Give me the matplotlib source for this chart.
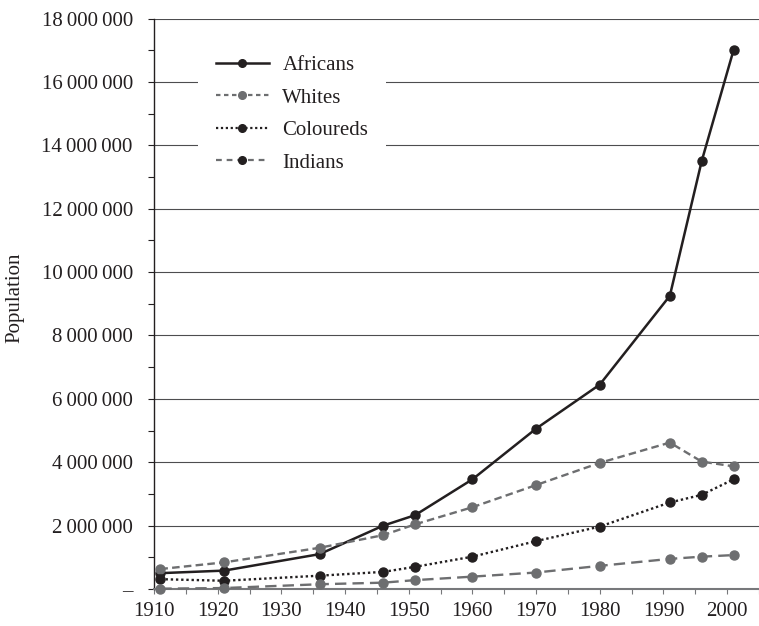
import matplotlib
matplotlib.use("Agg")
import matplotlib.pyplot as plt
from matplotlib.lines import Line2D
from matplotlib.ticker import MultipleLocator, FuncFormatter

plt.rcParams['font.family'] = ['Liberation Serif', 'DejaVu Serif']
plt.rcParams['font.size'] = 15

years = [1911, 1921, 1936, 1946, 1951, 1960, 1970, 1980, 1991, 1996, 2001]
africans = [500000, 580000, 1100000, 2000000, 2330000, 3460000, 5060000,
            6450000, 9250000, 13500000, 17000000]
whites = [630000, 840000, 1300000, 1700000, 2040000, 2580000, 3280000,
          3980000, 4620000, 4020000, 3870000]
coloureds = [310000, 260000, 420000, 540000, 700000, 1020000, 1510000,
             1970000, 2730000, 2970000, 3460000]
indians = [10000, 30000, 150000, 200000, 280000, 390000, 520000,
           730000, 950000, 1020000, 1070000]

BLACK = '#231f20'
GREY = '#6d6e70'

fig = plt.figure(figsize=(7.59, 6.26), dpi=100)
ax = fig.add_axes([154 / 759, 37 / 626, (759 - 154) / 759, (589 - 18.5) / 626])

common = dict(marker='o', markersize=6.5, clip_on=False, zorder=3)
ax.plot(years, africans, color=BLACK, lw=1.8, ls='-', **common)
ax.plot(years, whites, color=GREY, lw=1.7, ls=(0, (3.2, 1.8)), **common)
ax.plot(years, coloureds, color=BLACK, lw=1.7, ls=(0, (1.0, 1.2)), **common)
ax.plot(years, indians, color=GREY, lw=1.7, ls=(0, (4.8, 2.6)), **common)

ax.set_xlim(1910, 2005)
ax.set_ylim(0, 18000000)

ax.xaxis.set_major_locator(MultipleLocator(10))
ax.xaxis.set_minor_locator(MultipleLocator(5))
ax.yaxis.set_major_locator(MultipleLocator(2000000))
ax.yaxis.set_minor_locator(MultipleLocator(1000000))


def pop_fmt(v, pos):
    if v == 0:
        return '\u2013'
    return f'{int(v):,}'.replace(',', '\u2009')


ax.yaxis.set_major_formatter(FuncFormatter(pop_fmt))

for s in ['top', 'right']:
    ax.spines[s].set_visible(False)
ax.spines['left'].set_color(BLACK)
ax.spines['left'].set_linewidth(1.0)
ax.spines['bottom'].set_color('#77787b')
ax.spines['bottom'].set_linewidth(1.5)
ax.spines['bottom'].set_zorder(2.5)

ax.tick_params(axis='y', which='both', direction='out', length=4.3, width=0.8,
               color=BLACK, pad=11, labelcolor=BLACK)
ax.tick_params(axis='x', which='both', direction='out', length=3.6, width=0.8,
               color='#77787b', pad=6, labelcolor=BLACK)

ax.yaxis.grid(True, color='#4d4d4f', lw=0.8)
ax.set_axisbelow(True)

fig.text(15 / 759, 1 - 298 / 626, 'Population', rotation=90,
         ha='center', va='center', color=BLACK)

handles = [
    Line2D([], [], color=BLACK, lw=1.8, marker='o', markersize=5.5),
    Line2D([], [], color=GREY, lw=1.6, ls=(0, (2.0, 1.6)), marker='o', markersize=5.5),
    Line2D([], [], color=BLACK, lw=1.6, ls=(0, (1.0, 1.2)), marker='o', markersize=5.5),
    Line2D([], [], color=GREY, lw=1.6, ls=(0, (2.6, 2.2)), marker='o', markersize=5.5,
           markerfacecolor=BLACK, markeredgecolor=BLACK),
]
leg = fig.legend(handles, ['Africans', 'Whites', 'Coloureds', 'Indians'],
                 loc='upper left', bbox_to_anchor=(198 / 759, 1 - 38 / 626),
                 borderaxespad=0, borderpad=0.85, handlelength=2.55,
                 handletextpad=0.65, labelspacing=0.62, frameon=True,
                 fancybox=False, edgecolor='none', facecolor='white',
                 framealpha=1.0)
for t in leg.get_texts():
    t.set_color(BLACK)

fig.savefig('out.png', dpi=100)
